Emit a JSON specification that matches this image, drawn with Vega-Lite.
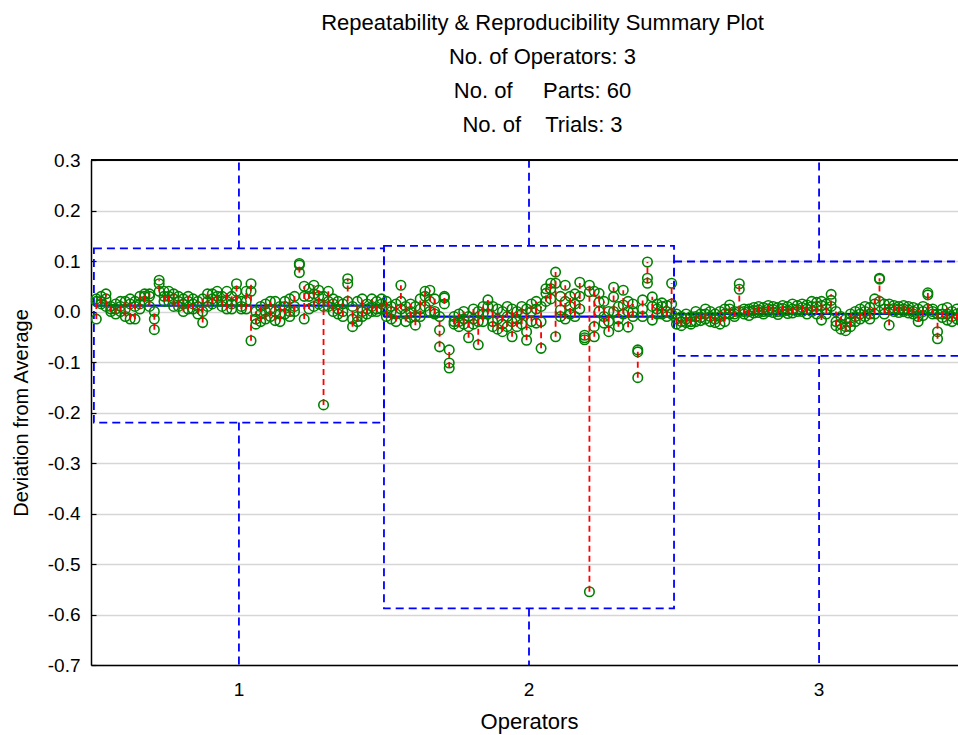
{
"$schema": "https://vega.github.io/schema/vega-lite/v6.json",
"width": 867, "height": 505,
"autosize": {"type": "none"},
"padding": {"left": 91, "top": 160, "right": 0, "bottom": 70},
"config": {"font": "Liberation Sans", "view": {"stroke": null}},
"title": {"text": ["Repeatability & Reproducibility Summary Plot", "No. of Operators: 3", "No. of\u00a0\u00a0\u00a0\u00a0 Parts: 60", "No. of\u00a0\u00a0\u00a0 Trials: 3"], "fontSize": 22, "fontWeight": "normal", "lineHeight": 34, "color": "black", "anchor": "middle", "dx": 18, "offset": 14},
"datasets": {
"ops": [{"o": 1, "mean": 0.0115, "ucl": 0.125, "lcl": -0.22}, {"o": 2, "mean": -0.01, "ucl": 0.13, "lcl": -0.588}, {"o": 3, "mean": -0.005, "ucl": 0.099, "lcl": -0.088}],
"pts": [
{"o":1,"p":1,"v":0.025},{"o":1,"p":1,"v":0.02},{"o":1,"p":1,"v":-0.015},
{"o":1,"p":2,"v":0.03},{"o":1,"p":2,"v":0.02},{"o":1,"p":2,"v":0.015},
{"o":1,"p":3,"v":0.035},{"o":1,"p":3,"v":0.025},{"o":1,"p":3,"v":0.01},
{"o":1,"p":4,"v":0.01},{"o":1,"p":4,"v":0.005},{"o":1,"p":4,"v":0.0},
{"o":1,"p":5,"v":0.015},{"o":1,"p":5,"v":0.005},{"o":1,"p":5,"v":-0.005},
{"o":1,"p":6,"v":0.02},{"o":1,"p":6,"v":0.01},{"o":1,"p":6,"v":0.0},
{"o":1,"p":7,"v":0.02},{"o":1,"p":7,"v":0.005},{"o":1,"p":7,"v":-0.01},
{"o":1,"p":8,"v":0.025},{"o":1,"p":8,"v":0.015},{"o":1,"p":8,"v":-0.015},
{"o":1,"p":9,"v":0.02},{"o":1,"p":9,"v":0.01},{"o":1,"p":9,"v":-0.015},
{"o":1,"p":10,"v":0.03},{"o":1,"p":10,"v":0.015},{"o":1,"p":10,"v":0.005},
{"o":1,"p":11,"v":0.035},{"o":1,"p":11,"v":0.03},{"o":1,"p":11,"v":0.02},
{"o":1,"p":12,"v":0.035},{"o":1,"p":12,"v":0.03},{"o":1,"p":12,"v":0.01},
{"o":1,"p":13,"v":0.0},{"o":1,"p":13,"v":-0.015},{"o":1,"p":13,"v":-0.036},
{"o":1,"p":14,"v":0.062},{"o":1,"p":14,"v":0.055},{"o":1,"p":14,"v":0.04},
{"o":1,"p":15,"v":0.04},{"o":1,"p":15,"v":0.03},{"o":1,"p":15,"v":0.02},
{"o":1,"p":16,"v":0.04},{"o":1,"p":16,"v":0.03},{"o":1,"p":16,"v":0.02},
{"o":1,"p":17,"v":0.035},{"o":1,"p":17,"v":0.025},{"o":1,"p":17,"v":0.01},
{"o":1,"p":18,"v":0.03},{"o":1,"p":18,"v":0.02},{"o":1,"p":18,"v":0.01},
{"o":1,"p":19,"v":0.025},{"o":1,"p":19,"v":0.015},{"o":1,"p":19,"v":0.0},
{"o":1,"p":20,"v":0.03},{"o":1,"p":20,"v":0.02},{"o":1,"p":20,"v":0.005},
{"o":1,"p":21,"v":0.025},{"o":1,"p":21,"v":0.015},{"o":1,"p":21,"v":0.005},
{"o":1,"p":22,"v":0.02},{"o":1,"p":22,"v":0.01},{"o":1,"p":22,"v":-0.005},
{"o":1,"p":23,"v":0.025},{"o":1,"p":23,"v":0.0},{"o":1,"p":23,"v":-0.022},
{"o":1,"p":24,"v":0.035},{"o":1,"p":24,"v":0.02},{"o":1,"p":24,"v":0.01},
{"o":1,"p":25,"v":0.035},{"o":1,"p":25,"v":0.025},{"o":1,"p":25,"v":0.015},
{"o":1,"p":26,"v":0.04},{"o":1,"p":26,"v":0.03},{"o":1,"p":26,"v":0.02},
{"o":1,"p":27,"v":0.03},{"o":1,"p":27,"v":0.02},{"o":1,"p":27,"v":0.01},
{"o":1,"p":28,"v":0.04},{"o":1,"p":28,"v":0.02},{"o":1,"p":28,"v":0.005},
{"o":1,"p":29,"v":0.03},{"o":1,"p":29,"v":0.015},{"o":1,"p":29,"v":0.005},
{"o":1,"p":30,"v":0.055},{"o":1,"p":30,"v":0.04},{"o":1,"p":30,"v":0.02},
{"o":1,"p":31,"v":0.02},{"o":1,"p":31,"v":0.01},{"o":1,"p":31,"v":0.005},
{"o":1,"p":32,"v":0.04},{"o":1,"p":32,"v":0.02},{"o":1,"p":32,"v":0.005},
{"o":1,"p":33,"v":0.055},{"o":1,"p":33,"v":0.04},{"o":1,"p":33,"v":-0.058},
{"o":1,"p":34,"v":0.0},{"o":1,"p":34,"v":-0.015},{"o":1,"p":34,"v":-0.025},
{"o":1,"p":35,"v":0.01},{"o":1,"p":35,"v":-0.005},{"o":1,"p":35,"v":-0.02},
{"o":1,"p":36,"v":0.015},{"o":1,"p":36,"v":0.0},{"o":1,"p":36,"v":-0.015},
{"o":1,"p":37,"v":0.02},{"o":1,"p":37,"v":0.005},{"o":1,"p":37,"v":-0.01},
{"o":1,"p":38,"v":0.02},{"o":1,"p":38,"v":0.0},{"o":1,"p":38,"v":-0.018},
{"o":1,"p":39,"v":0.01},{"o":1,"p":39,"v":-0.005},{"o":1,"p":39,"v":-0.02},
{"o":1,"p":40,"v":0.02},{"o":1,"p":40,"v":0.01},{"o":1,"p":40,"v":-0.005},
{"o":1,"p":41,"v":0.025},{"o":1,"p":41,"v":0.0},{"o":1,"p":41,"v":-0.01},
{"o":1,"p":42,"v":0.03},{"o":1,"p":42,"v":0.01},{"o":1,"p":42,"v":0.0},
{"o":1,"p":43,"v":0.095},{"o":1,"p":43,"v":0.092},{"o":1,"p":43,"v":0.077},
{"o":1,"p":44,"v":0.05},{"o":1,"p":44,"v":0.03},{"o":1,"p":44,"v":-0.015},
{"o":1,"p":45,"v":0.045},{"o":1,"p":45,"v":0.03},{"o":1,"p":45,"v":0.005},
{"o":1,"p":46,"v":0.052},{"o":1,"p":46,"v":0.035},{"o":1,"p":46,"v":0.01},
{"o":1,"p":47,"v":0.042},{"o":1,"p":47,"v":0.03},{"o":1,"p":47,"v":0.015},
{"o":1,"p":48,"v":0.03},{"o":1,"p":48,"v":0.01},{"o":1,"p":48,"v":-0.185},
{"o":1,"p":49,"v":0.04},{"o":1,"p":49,"v":0.02},{"o":1,"p":49,"v":0.01},
{"o":1,"p":50,"v":0.025},{"o":1,"p":50,"v":0.015},{"o":1,"p":50,"v":0.0},
{"o":1,"p":51,"v":0.02},{"o":1,"p":51,"v":0.005},{"o":1,"p":51,"v":-0.005},
{"o":1,"p":52,"v":0.015},{"o":1,"p":52,"v":0.0},{"o":1,"p":52,"v":-0.01},
{"o":1,"p":53,"v":0.065},{"o":1,"p":53,"v":0.055},{"o":1,"p":53,"v":0.02},
{"o":1,"p":54,"v":0.01},{"o":1,"p":54,"v":-0.015},{"o":1,"p":54,"v":-0.03},
{"o":1,"p":55,"v":0.02},{"o":1,"p":55,"v":-0.01},{"o":1,"p":55,"v":-0.02},
{"o":1,"p":56,"v":0.025},{"o":1,"p":56,"v":0.0},{"o":1,"p":56,"v":-0.01},
{"o":1,"p":57,"v":0.015},{"o":1,"p":57,"v":0.005},{"o":1,"p":57,"v":-0.005},
{"o":1,"p":58,"v":0.025},{"o":1,"p":58,"v":0.01},{"o":1,"p":58,"v":0.0},
{"o":1,"p":59,"v":0.02},{"o":1,"p":59,"v":0.005},{"o":1,"p":59,"v":0.0},
{"o":1,"p":60,"v":0.025},{"o":1,"p":60,"v":0.015},{"o":1,"p":60,"v":0.005},
{"o":2,"p":1,"v":0.02},{"o":2,"p":1,"v":0.005},{"o":2,"p":1,"v":-0.01},
{"o":2,"p":2,"v":0.01},{"o":2,"p":2,"v":0.0},{"o":2,"p":2,"v":-0.015},
{"o":2,"p":3,"v":0.015},{"o":2,"p":3,"v":-0.005},{"o":2,"p":3,"v":-0.02},
{"o":2,"p":4,"v":0.052},{"o":2,"p":4,"v":0.02},{"o":2,"p":4,"v":0.005},
{"o":2,"p":5,"v":0.01},{"o":2,"p":5,"v":-0.005},{"o":2,"p":5,"v":-0.02},
{"o":2,"p":6,"v":0.015},{"o":2,"p":6,"v":0.0},{"o":2,"p":6,"v":-0.012},
{"o":2,"p":7,"v":0.01},{"o":2,"p":7,"v":-0.01},{"o":2,"p":7,"v":-0.027},
{"o":2,"p":8,"v":0.025},{"o":2,"p":8,"v":0.005},{"o":2,"p":8,"v":-0.01},
{"o":2,"p":9,"v":0.04},{"o":2,"p":9,"v":0.03},{"o":2,"p":9,"v":0.01},
{"o":2,"p":10,"v":0.042},{"o":2,"p":10,"v":0.02},{"o":2,"p":10,"v":0.0},
{"o":2,"p":11,"v":0.025},{"o":2,"p":11,"v":0.0},{"o":2,"p":11,"v":-0.005},
{"o":2,"p":12,"v":-0.01},{"o":2,"p":12,"v":-0.037},{"o":2,"p":12,"v":-0.07},
{"o":2,"p":13,"v":0.03},{"o":2,"p":13,"v":0.027},{"o":2,"p":13,"v":0.015},
{"o":2,"p":14,"v":-0.076},{"o":2,"p":14,"v":-0.102},{"o":2,"p":14,"v":-0.112},
{"o":2,"p":15,"v":-0.01},{"o":2,"p":15,"v":-0.02},{"o":2,"p":15,"v":-0.025},
{"o":2,"p":16,"v":-0.005},{"o":2,"p":16,"v":-0.02},{"o":2,"p":16,"v":-0.03},
{"o":2,"p":17,"v":0.0},{"o":2,"p":17,"v":-0.015},{"o":2,"p":17,"v":-0.025},
{"o":2,"p":18,"v":-0.01},{"o":2,"p":18,"v":-0.03},{"o":2,"p":18,"v":-0.052},
{"o":2,"p":19,"v":0.005},{"o":2,"p":19,"v":-0.015},{"o":2,"p":19,"v":-0.025},
{"o":2,"p":20,"v":0.0},{"o":2,"p":20,"v":-0.02},{"o":2,"p":20,"v":-0.066},
{"o":2,"p":21,"v":0.01},{"o":2,"p":21,"v":-0.005},{"o":2,"p":21,"v":-0.02},
{"o":2,"p":22,"v":0.023},{"o":2,"p":22,"v":0.01},{"o":2,"p":22,"v":-0.005},
{"o":2,"p":23,"v":0.01},{"o":2,"p":23,"v":-0.02},{"o":2,"p":23,"v":-0.03},
{"o":2,"p":24,"v":0.005},{"o":2,"p":24,"v":-0.015},{"o":2,"p":24,"v":-0.035},
{"o":2,"p":25,"v":0.0},{"o":2,"p":25,"v":-0.025},{"o":2,"p":25,"v":-0.04},
{"o":2,"p":26,"v":0.01},{"o":2,"p":26,"v":-0.01},{"o":2,"p":26,"v":-0.03},
{"o":2,"p":27,"v":0.005},{"o":2,"p":27,"v":-0.02},{"o":2,"p":27,"v":-0.05},
{"o":2,"p":28,"v":0.0},{"o":2,"p":28,"v":-0.015},{"o":2,"p":28,"v":-0.03},
{"o":2,"p":29,"v":0.01},{"o":2,"p":29,"v":-0.005},{"o":2,"p":29,"v":-0.025},
{"o":2,"p":30,"v":0.005},{"o":2,"p":30,"v":-0.04},{"o":2,"p":30,"v":-0.057},
{"o":2,"p":31,"v":0.015},{"o":2,"p":31,"v":0.0},{"o":2,"p":31,"v":-0.02},
{"o":2,"p":32,"v":0.02},{"o":2,"p":32,"v":0.005},{"o":2,"p":32,"v":-0.023},
{"o":2,"p":33,"v":0.01},{"o":2,"p":33,"v":-0.02},{"o":2,"p":33,"v":-0.073},
{"o":2,"p":34,"v":0.045},{"o":2,"p":34,"v":0.036},{"o":2,"p":34,"v":0.02},
{"o":2,"p":35,"v":0.056},{"o":2,"p":35,"v":0.045},{"o":2,"p":35,"v":0.025},
{"o":2,"p":36,"v":0.078},{"o":2,"p":36,"v":0.056},{"o":2,"p":36,"v":-0.05},
{"o":2,"p":37,"v":0.03},{"o":2,"p":37,"v":0.003},{"o":2,"p":37,"v":-0.01},
{"o":2,"p":38,"v":0.052},{"o":2,"p":38,"v":0.02},{"o":2,"p":38,"v":-0.015},
{"o":2,"p":39,"v":0.03},{"o":2,"p":39,"v":0.01},{"o":2,"p":39,"v":-0.005},
{"o":2,"p":40,"v":0.035},{"o":2,"p":40,"v":0.015},{"o":2,"p":40,"v":-0.01},
{"o":2,"p":41,"v":0.058},{"o":2,"p":41,"v":0.03},{"o":2,"p":41,"v":0.005},
{"o":2,"p":42,"v":-0.047},{"o":2,"p":42,"v":-0.052},{"o":2,"p":42,"v":-0.056},
{"o":2,"p":43,"v":0.052},{"o":2,"p":43,"v":0.039},{"o":2,"p":43,"v":-0.555},
{"o":2,"p":44,"v":0.04},{"o":2,"p":44,"v":-0.03},{"o":2,"p":44,"v":-0.05},
{"o":2,"p":45,"v":0.036},{"o":2,"p":45,"v":0.019},{"o":2,"p":45,"v":0.0},
{"o":2,"p":46,"v":0.02},{"o":2,"p":46,"v":-0.01},{"o":2,"p":46,"v":-0.023},
{"o":2,"p":47,"v":0.0},{"o":2,"p":47,"v":-0.02},{"o":2,"p":47,"v":-0.04},
{"o":2,"p":48,"v":0.048},{"o":2,"p":48,"v":0.029},{"o":2,"p":48,"v":0.0},
{"o":2,"p":49,"v":0.01},{"o":2,"p":49,"v":-0.015},{"o":2,"p":49,"v":-0.03},
{"o":2,"p":50,"v":0.042},{"o":2,"p":50,"v":0.013},{"o":2,"p":50,"v":-0.005},
{"o":2,"p":51,"v":0.02},{"o":2,"p":51,"v":0.0},{"o":2,"p":51,"v":-0.031},
{"o":2,"p":52,"v":0.015},{"o":2,"p":52,"v":0.0},{"o":2,"p":52,"v":-0.01},
{"o":2,"p":53,"v":-0.076},{"o":2,"p":53,"v":-0.08},{"o":2,"p":53,"v":-0.131},
{"o":2,"p":54,"v":0.023},{"o":2,"p":54,"v":0.005},{"o":2,"p":54,"v":-0.01},
{"o":2,"p":55,"v":0.098},{"o":2,"p":55,"v":0.066},{"o":2,"p":55,"v":0.056},
{"o":2,"p":56,"v":0.029},{"o":2,"p":56,"v":0.01},{"o":2,"p":56,"v":-0.017},
{"o":2,"p":57,"v":0.015},{"o":2,"p":57,"v":0.005},{"o":2,"p":57,"v":-0.005},
{"o":2,"p":58,"v":0.017},{"o":2,"p":58,"v":0.01},{"o":2,"p":58,"v":-0.005},
{"o":2,"p":59,"v":0.012},{"o":2,"p":59,"v":0.0},{"o":2,"p":59,"v":-0.01},
{"o":2,"p":60,"v":0.056},{"o":2,"p":60,"v":0.015},{"o":2,"p":60,"v":-0.005},
{"o":3,"p":1,"v":-0.005},{"o":3,"p":1,"v":-0.015},{"o":3,"p":1,"v":-0.025},
{"o":3,"p":2,"v":-0.01},{"o":3,"p":2,"v":-0.02},{"o":3,"p":2,"v":-0.028},
{"o":3,"p":3,"v":-0.005},{"o":3,"p":3,"v":-0.015},{"o":3,"p":3,"v":-0.022},
{"o":3,"p":4,"v":-0.01},{"o":3,"p":4,"v":-0.02},{"o":3,"p":4,"v":-0.025},
{"o":3,"p":5,"v":0.0},{"o":3,"p":5,"v":-0.01},{"o":3,"p":5,"v":-0.02},
{"o":3,"p":6,"v":-0.005},{"o":3,"p":6,"v":-0.012},{"o":3,"p":6,"v":-0.018},
{"o":3,"p":7,"v":0.005},{"o":3,"p":7,"v":-0.005},{"o":3,"p":7,"v":-0.015},
{"o":3,"p":8,"v":0.0},{"o":3,"p":8,"v":-0.01},{"o":3,"p":8,"v":-0.02},
{"o":3,"p":9,"v":-0.005},{"o":3,"p":9,"v":-0.015},{"o":3,"p":9,"v":-0.022},
{"o":3,"p":10,"v":0.0},{"o":3,"p":10,"v":-0.01},{"o":3,"p":10,"v":-0.025},
{"o":3,"p":11,"v":0.005},{"o":3,"p":11,"v":-0.005},{"o":3,"p":11,"v":-0.02},
{"o":3,"p":12,"v":0.013},{"o":3,"p":12,"v":0.005},{"o":3,"p":12,"v":-0.005},
{"o":3,"p":13,"v":0.0},{"o":3,"p":13,"v":-0.005},{"o":3,"p":13,"v":-0.01},
{"o":3,"p":14,"v":0.055},{"o":3,"p":14,"v":0.044},{"o":3,"p":14,"v":0.0},
{"o":3,"p":15,"v":0.005},{"o":3,"p":15,"v":0.0},{"o":3,"p":15,"v":-0.005},
{"o":3,"p":16,"v":0.005},{"o":3,"p":16,"v":0.0},{"o":3,"p":16,"v":-0.008},
{"o":3,"p":17,"v":0.008},{"o":3,"p":17,"v":0.002},{"o":3,"p":17,"v":-0.003},
{"o":3,"p":18,"v":0.01},{"o":3,"p":18,"v":0.003},{"o":3,"p":18,"v":-0.002},
{"o":3,"p":19,"v":0.008},{"o":3,"p":19,"v":0.0},{"o":3,"p":19,"v":-0.005},
{"o":3,"p":20,"v":0.012},{"o":3,"p":20,"v":0.005},{"o":3,"p":20,"v":0.0},
{"o":3,"p":21,"v":0.01},{"o":3,"p":21,"v":0.004},{"o":3,"p":21,"v":-0.002},
{"o":3,"p":22,"v":0.008},{"o":3,"p":22,"v":0.0},{"o":3,"p":22,"v":-0.006},
{"o":3,"p":23,"v":0.012},{"o":3,"p":23,"v":0.006},{"o":3,"p":23,"v":0.0},
{"o":3,"p":24,"v":0.01},{"o":3,"p":24,"v":0.002},{"o":3,"p":24,"v":-0.004},
{"o":3,"p":25,"v":0.015},{"o":3,"p":25,"v":0.005},{"o":3,"p":25,"v":-0.003},
{"o":3,"p":26,"v":0.012},{"o":3,"p":26,"v":0.004},{"o":3,"p":26,"v":0.0},
{"o":3,"p":27,"v":0.015},{"o":3,"p":27,"v":0.008},{"o":3,"p":27,"v":0.0},
{"o":3,"p":28,"v":0.013},{"o":3,"p":28,"v":0.005},{"o":3,"p":28,"v":-0.005},
{"o":3,"p":29,"v":0.02},{"o":3,"p":29,"v":0.01},{"o":3,"p":29,"v":0.0},
{"o":3,"p":30,"v":0.018},{"o":3,"p":30,"v":0.01},{"o":3,"p":30,"v":-0.005},
{"o":3,"p":31,"v":0.02},{"o":3,"p":31,"v":0.012},{"o":3,"p":31,"v":-0.017},
{"o":3,"p":32,"v":0.015},{"o":3,"p":32,"v":0.005},{"o":3,"p":32,"v":-0.005},
{"o":3,"p":33,"v":0.034},{"o":3,"p":33,"v":0.022},{"o":3,"p":33,"v":0.01},
{"o":3,"p":34,"v":0.0},{"o":3,"p":34,"v":-0.02},{"o":3,"p":34,"v":-0.028},
{"o":3,"p":35,"v":-0.01},{"o":3,"p":35,"v":-0.025},{"o":3,"p":35,"v":-0.035},
{"o":3,"p":36,"v":-0.015},{"o":3,"p":36,"v":-0.03},{"o":3,"p":36,"v":-0.038},
{"o":3,"p":37,"v":-0.005},{"o":3,"p":37,"v":-0.02},{"o":3,"p":37,"v":-0.03},
{"o":3,"p":38,"v":0.0},{"o":3,"p":38,"v":-0.01},{"o":3,"p":38,"v":-0.02},
{"o":3,"p":39,"v":0.005},{"o":3,"p":39,"v":-0.005},{"o":3,"p":39,"v":-0.015},
{"o":3,"p":40,"v":0.01},{"o":3,"p":40,"v":0.0},{"o":3,"p":40,"v":-0.01},
{"o":3,"p":41,"v":0.008},{"o":3,"p":41,"v":-0.005},{"o":3,"p":41,"v":-0.015},
{"o":3,"p":42,"v":0.025},{"o":3,"p":42,"v":0.015},{"o":3,"p":42,"v":-0.005},
{"o":3,"p":43,"v":0.066},{"o":3,"p":43,"v":0.064},{"o":3,"p":43,"v":0.02},
{"o":3,"p":44,"v":0.015},{"o":3,"p":44,"v":0.005},{"o":3,"p":44,"v":-0.005},
{"o":3,"p":45,"v":0.015},{"o":3,"p":45,"v":0.005},{"o":3,"p":45,"v":-0.027},
{"o":3,"p":46,"v":0.012},{"o":3,"p":46,"v":0.006},{"o":3,"p":46,"v":0.0},
{"o":3,"p":47,"v":0.01},{"o":3,"p":47,"v":0.004},{"o":3,"p":47,"v":-0.002},
{"o":3,"p":48,"v":0.012},{"o":3,"p":48,"v":0.005},{"o":3,"p":48,"v":0.0},
{"o":3,"p":49,"v":0.01},{"o":3,"p":49,"v":0.003},{"o":3,"p":49,"v":-0.003},
{"o":3,"p":50,"v":0.008},{"o":3,"p":50,"v":0.0},{"o":3,"p":50,"v":-0.005},
{"o":3,"p":51,"v":0.005},{"o":3,"p":51,"v":-0.01},{"o":3,"p":51,"v":-0.02},
{"o":3,"p":52,"v":0.01},{"o":3,"p":52,"v":0.0},{"o":3,"p":52,"v":-0.008},
{"o":3,"p":53,"v":0.037},{"o":3,"p":53,"v":0.033},{"o":3,"p":53,"v":0.005},
{"o":3,"p":54,"v":0.005},{"o":3,"p":54,"v":0.0},{"o":3,"p":54,"v":-0.005},
{"o":3,"p":55,"v":-0.005},{"o":3,"p":55,"v":-0.04},{"o":3,"p":55,"v":-0.054},
{"o":3,"p":56,"v":0.005},{"o":3,"p":56,"v":-0.005},{"o":3,"p":56,"v":-0.012},
{"o":3,"p":57,"v":0.008},{"o":3,"p":57,"v":-0.005},{"o":3,"p":57,"v":-0.017},
{"o":3,"p":58,"v":0.0},{"o":3,"p":58,"v":-0.01},{"o":3,"p":58,"v":-0.02},
{"o":3,"p":59,"v":0.005},{"o":3,"p":59,"v":-0.005},{"o":3,"p":59,"v":-0.015},
{"o":3,"p":60,"v":0.0},{"o":3,"p":60,"v":-0.01},{"o":3,"p":60,"v":-0.02}
]
},
"layer": [
{
"data": {"name": "ops"},
"mark": {"type": "rect", "fill": "white", "fillOpacity": 0, "stroke": "#0000ff", "strokeWidth": 1.8, "strokeDash": [8, 5]},
"encoding": {
"x": {"field": "o", "type": "ordinal", "scale": {"range": [0, 876], "paddingInner": 0, "paddingOuter": 0.01},
"axis": {"labelAngle": 0, "labelFontSize": 19, "labelColor": "black", "ticks": false, "domainColor": "black", "domainWidth": 1.5, "labelPadding": 15, "title": "Operators", "titleFontSize": 22, "titleFontWeight": "normal", "titleColor": "black", "titlePadding": 12, "grid": false}},
"y": {"field": "ucl", "type": "quantitative", "scale": {"domain": [-0.7, 0.3], "nice": false, "zero": false},
"axis": {"values": [-0.7,-0.675,-0.65,-0.625,-0.6,-0.575,-0.55,-0.525,-0.5,-0.475,-0.45,-0.425,-0.4,-0.375,-0.35,-0.325,-0.3,-0.275,-0.25,-0.225,-0.2,-0.175,-0.15,-0.125,-0.1,-0.075,-0.05,-0.025,0,0.025,0.05,0.075,0.1,0.125,0.15,0.175,0.2,0.225,0.25,0.275,0.3],
"labelExpr": "abs(datum.value*10-round(datum.value*10))<0.001 ? replace(format(datum.value, '.1f'), '\u2212', '-') : ''",
"labelOverlap": false, "labelFontSize": 19, "labelColor": "black", "labelPadding": 16,
"tickSize": -5, "tickColor": "black", "tickWidth": 1.2,
"domainColor": "black", "domainWidth": 1.5,
"grid": true, "gridColor": {"condition": {"test": "abs(datum.value*10-round(datum.value*10))<0.001", "value": "#d6d6d6"}, "value": "transparent"}, "gridWidth": 1.5,
"title": "Deviation from Average", "titleFontSize": 20, "titleFontWeight": "normal", "titleColor": "black", "titlePadding": 16}},
"y2": {"field": "lcl"}
}
},
{
"data": {"name": "ops"},
"mark": {"type": "rule", "stroke": "#0000ff", "strokeWidth": 1.8, "strokeDash": [8, 5]},
"encoding": {"x": {"field": "o", "type": "ordinal"}, "y": {"field": "ucl", "type": "quantitative"}, "y2": {"datum": 0.3}}
},
{
"data": {"name": "ops"},
"mark": {"type": "rule", "stroke": "#0000ff", "strokeWidth": 1.8, "strokeDash": [8, 5]},
"encoding": {"x": {"field": "o", "type": "ordinal"}, "y": {"field": "lcl", "type": "quantitative"}, "y2": {"datum": -0.7}}
},
{
"data": {"name": "ops"},
"mark": {"type": "rule", "stroke": "#0000ff", "strokeWidth": 2.2},
"encoding": {"x": {"field": "o", "type": "ordinal", "bandPosition": 0}, "x2": {"field": "o", "bandPosition": 1}, "y": {"field": "mean", "type": "quantitative"}}
},
{
"data": {"name": "pts"},
"mark": {"type": "point", "shape": "circle", "filled": false, "stroke": "#008000", "strokeWidth": 1.6, "size": 90, "opacity": 1},
"encoding": {"x": {"field": "o", "type": "ordinal"}, "xOffset": {"field": "p", "type": "ordinal", "scale": {"paddingInner": 0, "paddingOuter": 0}}, "y": {"field": "v", "type": "quantitative"}}
},
{
"data": {"name": "pts"},
"transform": [{"aggregate": [{"op": "min", "field": "v", "as": "lo"}, {"op": "max", "field": "v", "as": "hi"}], "groupby": ["o", "p"]}],
"mark": {"type": "rule", "stroke": "#ff0000", "strokeWidth": 1.8, "strokeDash": [6, 4]},
"encoding": {"x": {"field": "o", "type": "ordinal"}, "xOffset": {"field": "p", "type": "ordinal"}, "y": {"field": "lo", "type": "quantitative"}, "y2": {"field": "hi"}}
},
{
"data": {"name": "ops"},
"mark": {"type": "rule", "stroke": "black", "strokeWidth": 1.5},
"encoding": {"y": {"datum": 0.3}}
}
]
}
